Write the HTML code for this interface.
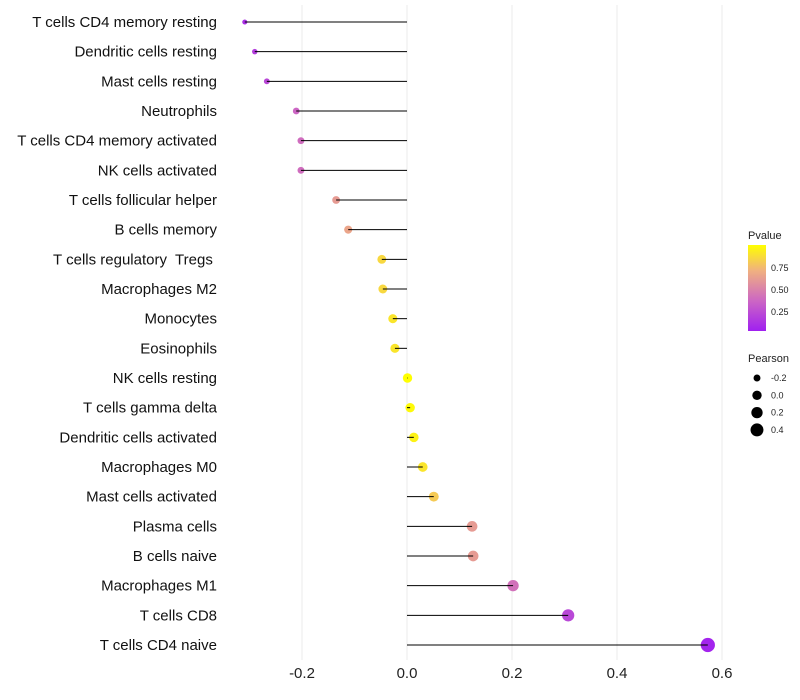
<!DOCTYPE html>
<html><head><meta charset="utf-8"><style>
body{margin:0;background:#fff;font-family:"Liberation Sans",sans-serif;}
svg{display:block}
text{white-space:pre}
</style></head><body>
<svg id="chart" width="800" height="700">
<g id="grid"></g>
<g id="marks"></g>
<g id="ylabels"></g>
<g id="xlabels"></g>
<g id="legend">
<defs><linearGradient id="pg" x1="0" y1="1" x2="0" y2="0">
<stop offset="0" stop-color="#a020f0"/><stop offset="0.35" stop-color="#cc66c4"/><stop offset="0.7" stop-color="#f0b080"/><stop offset="1" stop-color="#ffff00"/></linearGradient></defs>
<text x="748" y="239" font-size="11" fill="#222">Pvalue</text>
<rect x="748" y="245" width="18" height="86" fill="url(#pg)"/>
<text x="771" y="271" font-size="9" fill="#222">0.75</text>
<text x="771" y="293" font-size="9" fill="#222">0.50</text>
<text x="771" y="315" font-size="9" fill="#222">0.25</text>
<text x="748" y="362" font-size="11" fill="#222">Pearson</text>
</g>
</svg>
<script>
const categories=["T cells CD4 memory resting","Dendritic cells resting","Mast cells resting","Neutrophils","T cells CD4 memory activated","NK cells activated","T cells follicular helper","B cells memory","T cells regulatory  Tregs ","Macrophages M2","Monocytes","Eosinophils","NK cells resting","T cells gamma delta","Dendritic cells activated","Macrophages M0","Mast cells activated","Plasma cells","B cells naive","Macrophages M1","T cells CD8","T cells CD4 naive"];
const pearson=[-0.309,-0.29,-0.267,-0.211,-0.202,-0.202,-0.135,-0.112,-0.048,-0.046,-0.027,-0.023,0.001,0.006,0.013,0.03,0.051,0.124,0.126,0.202,0.307,0.573];
const pvalue=[0.08,0.15,0.2,0.35,0.38,0.38,0.6,0.65,0.85,0.85,0.9,0.9,1.0,0.98,0.95,0.9,0.8,0.6,0.6,0.4,0.2,0.02];
const xTicks=[-0.2,0,0.2,0.4,0.6];
const xTickLabels=["-0.2","0.0","0.2","0.4","0.6"];
const sizeLegend=[-0.2,0,0.2,0.4];
const sizeLegendLabels=["-0.2","0.0","0.2","0.4"];
const NS="http://www.w3.org/2000/svg";
const x=v=>407+v*525;
const y=i=>22+i*(623/(categories.length-1));
const r=v=>Math.sqrt(Math.max(2,22+50*v));
function col(p){const s=[[0,[160,32,240]],[0.35,[204,102,196]],[0.7,[240,176,128]],[1,[255,255,0]]];
 for(let k=1;k<s.length;k++){if(p<=s[k][0]){const t=(p-s[k-1][0])/(s[k][0]-s[k-1][0]);const a=s[k-1][1],b=s[k][1];return `rgb(${a.map((c,j)=>Math.round(c+(b[j]-c)*t)).join(',')})`;}}return 'rgb(255,255,0)';}
function mk(tag,attrs,parent){const e=document.createElementNS(NS,tag);for(const k in attrs)e.setAttribute(k,attrs[k]);document.getElementById(parent).appendChild(e);return e;}
xTicks.forEach((t,i)=>{
 const g=mk('line',{x1:x(t),x2:x(t),y1:5,y2:660,stroke:'#ebebeb','stroke-width':1},'grid');
 
 
 const tx=mk('text',{x:x(t),y:678,'font-size':15,'text-anchor':'middle',fill:'#222'},'xlabels');
 tx.textContent=xTickLabels[i];
 
 
});
categories.forEach((c,i)=>{
 const pt=mk('circle',{cx:x(pearson[i]),cy:y(i),r:r(pearson[i]),fill:col(pvalue[i])},'marks');
 
 
 const ln=mk('line',{x1:x(0),x2:x(pearson[i]),y1:y(i),y2:y(i),stroke:'#000','stroke-width':1},'marks');
 
 
 const tx=mk('text',{x:217,y:y(i)+5,'font-size':15,'text-anchor':'end',fill:'#111'},'ylabels');
 tx.textContent=c;
 
 
});
sizeLegend.forEach((v,i)=>{
 const cy=378+i*17.3;
 const c=mk('circle',{cx:757,cy:cy,r:r(v),fill:'#000'},'legend');
 
 
 const t=mk('text',{x:771,y:cy+3,'font-size':9,fill:'#222'},'legend');
 t.textContent=sizeLegendLabels[i];
 
 
});
</script>
</body></html>
